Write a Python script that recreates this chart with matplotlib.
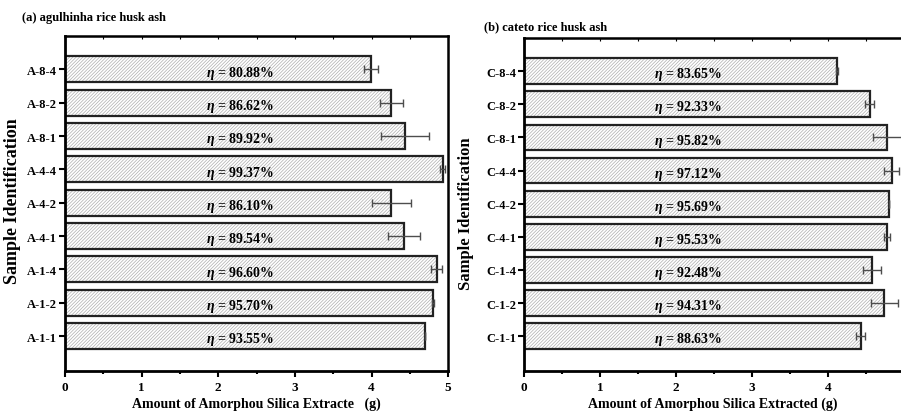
import numpy as np
import matplotlib
matplotlib.use("Agg")
from matplotlib import pyplot as plt
from matplotlib.ticker import MultipleLocator

plt.rcParams['font.family'] = ['Liberation Serif', 'DejaVu Serif']
plt.rcParams['font.weight'] = 'bold'
plt.rcParams['mathtext.fontset'] = 'custom'
plt.rcParams['mathtext.it'] = 'Liberation Serif:italic:bold'
plt.rcParams['mathtext.rm'] = 'Liberation Serif:bold'
plt.rcParams['hatch.linewidth'] = 0.5

# data, listed bottom to top
labels_a = ["A-1-1", "A-1-2", "A-1-4", "A-4-1", "A-4-2", "A-4-4", "A-8-1", "A-8-2", "A-8-4"]
mass_a = [4.70, 4.80, 4.85, 4.42, 4.26, 4.93, 4.44, 4.26, 3.99]
err_a = [0.0, 0.01, 0.07, 0.21, 0.26, 0.03, 0.31, 0.15, 0.09]
eta_a = ["93.55", "95.70", "96.60", "89.54", "86.10", "99.37", "89.92", "86.62", "80.88"]

labels_c = ["C-1-1", "C-1-2", "C-1-4", "C-4-1", "C-4-2", "C-4-4", "C-8-1", "C-8-2", "C-8-4"]
mass_c = [4.43, 4.74, 4.58, 4.77, 4.80, 4.84, 4.78, 4.55, 4.12]
err_c = [0.06, 0.18, 0.12, 0.04, 0.0, 0.10, 0.19, 0.06, 0.01]
eta_c = ["88.63", "94.31", "92.48", "95.53", "95.69", "97.12", "95.82", "92.33", "83.65"]


def draw_panel(ax, labels, mass, err, eta, xmax, xlabel, text_x, ylab_xy, ylab_size):
  y = np.arange(len(labels))
  ax.barh(y, mass, height=0.78, color='white', edgecolor='0.68', hatch='//////////', linewidth=0)
  ax.barh(y, mass, height=0.78, fill=False, edgecolor='#222222', linewidth=1.6)
  ax.errorbar(mass, y, xerr=err, fmt='none', ecolor='0.3', elinewidth=1.0, capsize=3, capthick=1.0)
  for yi, e in zip(y, eta):
    ax.text(text_x, yi - 0.08, r"$\eta$ = %s%%" % e, ha='center', va='center', fontsize=10, fontweight='bold')
  ax.set_yticks(y)
  ax.set_yticklabels(labels, fontsize=9)
  ax.set_ylim(-1.05, 9.0)
  ax.set_xlim(0, xmax)
  ax.xaxis.set_major_locator(MultipleLocator(1))
  ax.xaxis.set_minor_locator(MultipleLocator(0.5))
  ax.tick_params(axis='x', which='major', direction='out', length=4, width=1.5, labelsize=9.5, top=False)
  ax.tick_params(axis='x', which='minor', direction='out', length=2, width=1.5, top=False)
  ax.tick_params(axis='y', which='major', direction='out', length=4, width=1.5, pad=2)
  ax.set_xlabel(xlabel, fontsize=10, fontweight='bold', labelpad=2)
  ax.set_ylabel("Sample Identification", fontsize=ylab_size, fontweight='bold')
  ax.yaxis.set_label_coords(*ylab_xy)
  # small inward ticks on the top spine
  top = ax.secondary_xaxis('top')
  top.xaxis.set_major_locator(MultipleLocator(0.5))
  top.tick_params(direction='in', length=2, width=0.8, labeltop=False)
  for s in ['left', 'bottom']:
    ax.spines[s].set_linewidth(2.0)
  ax.spines['top'].set_linewidth(1.8)
  ax.spines['right'].set_linewidth(1.8)


fig = plt.figure(figsize=(9.01, 4.14), dpi=100)
ax1 = fig.add_axes([0.0721, 0.1014, 0.4253, 0.8092])
ax2 = fig.add_axes([0.5819, 0.1014, 0.4181, 0.8043])

draw_panel(ax1, labels_a, mass_a, err_a, eta_a, 5.0, "Amount of Amorphou Silica Extracte   (g)", 2.28,
           (-0.115, 0.51), 13)
draw_panel(ax2, labels_c, mass_c, err_c, eta_c, 4.96, "Amount of Amorphou Silica Extracted (g)", 2.16,
           (-0.134, 0.477), 12)
ax2.spines['right'].set_visible(False)

fig.text(0.0244, 0.957, "(a) agulhinha rice husk ash", fontsize=9, fontweight='bold', va='center')
fig.text(0.537, 0.935, "(b) cateto rice husk ash", fontsize=9, fontweight='bold', va='center')

fig.savefig("out.png", dpi=100)
